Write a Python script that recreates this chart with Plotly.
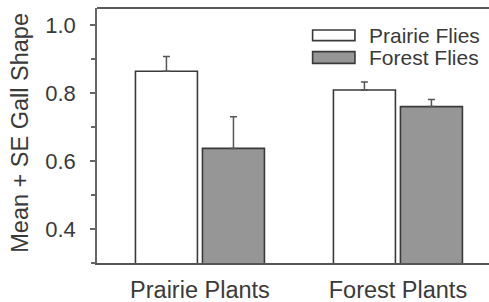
import plotly.graph_objects as go

categories = ["Prairie Plants", "Forest Plants"]
series_names = ["Prairie Flies", "Forest Flies"]
prairie_flies_mean = [0.864, 0.809]
prairie_flies_se = [0.043, 0.023]
forest_flies_mean = [0.637, 0.760]
forest_flies_se = [0.093, 0.021]
y_tick_vals = [0.4, 0.6, 0.8, 1.0]
y_tick_text = ["0.4", "0.6", "0.8", "1.0"]

FONT = "Liberation Sans, Arial, sans-serif"
OUTLINE = "#3a3a3a"
FILLS = ["#ffffff", "#969696"]

fig = go.Figure()
for name, mean, se, fill in [
    (series_names[0], prairie_flies_mean, prairie_flies_se, FILLS[0]),
    (series_names[1], forest_flies_mean, forest_flies_se, FILLS[1]),
]:
    fig.add_trace(go.Bar(
        name=name, x=categories, y=mean,
        marker=dict(color=fill, line=dict(color=OUTLINE, width=1.6)),
        error_y=dict(type="data", array=se, symmetric=False,
                     arrayminus=[0] * len(se),
                     color="#555555", thickness=1.5, width=3.5),
        showlegend=False,
    ))

# custom legend (wide rectangles like the original)
legend_rows = [(0.914, 0.872, 0.894), (0.829, 0.783, 0.806)]
for (y1, y0, yc), name, fill in zip(legend_rows, series_names, FILLS):
    fig.add_shape(type="rect", xref="paper", yref="paper",
                  x0=0.550, x1=0.658, y0=y0, y1=y1,
                  fillcolor=fill, line=dict(color=OUTLINE, width=1.6))
    fig.add_annotation(xref="paper", yref="paper", x=0.688, y=yc,
                       text=name, showarrow=False, xanchor="left",
                       yanchor="middle",
                       font=dict(family=FONT, size=21, color="#3a3a3a"))

# top border line
fig.add_shape(type="line", xref="paper", yref="paper", x0=0, x1=1, y0=1, y1=1,
              line=dict(color="#222222", width=1.5))

# y-axis title
fig.add_annotation(xref="paper", yref="paper", x=-0.197, y=0.51,
                   text="Mean + SE Gall Shape", textangle=-90, showarrow=False,
                   xanchor="center", yanchor="middle",
                   font=dict(family=FONT, size=23.5, color="#3a3a3a"))

fig.update_layout(
    width=489, height=302,
    margin=dict(l=97, r=0, t=8, b=39),
    paper_bgcolor="white", plot_bgcolor="white",
    barmode="group", bargap=0.323, bargroupgap=0.075,
    font=dict(family=FONT, color="#3a3a3a"),
    xaxis=dict(range=[-0.52, 1.46], showline=True, linecolor="#555555",
               linewidth=1.5, ticks="", showgrid=False, zeroline=False,
               automargin=False,
               tickfont=dict(family=FONT, size=23.5, color="#3a3a3a"),
               ticklabelstandoff=5),
    yaxis=dict(range=[0.3, 1.05], showline=True, linecolor="#666666",
               linewidth=1.5, ticks="outside", ticklen=5, tickwidth=1.5,
               tickcolor="#666666", tickvals=y_tick_vals, ticktext=y_tick_text,
               minor=dict(dtick=0.1, tick0=0.3, ticks="outside", ticklen=4,
                          tickwidth=1.5, tickcolor="#666666", showgrid=False),
               showgrid=False, zeroline=False, automargin=False,
               tickfont=dict(family=FONT, size=22, color="#3a3a3a"),
               ticklabelstandoff=10),
)

fig.write_html("out.html",
               config={"displayModeBar": False},
               post_script="document.body.style.margin='0';"
                           "document.body.style.overflow='hidden';")
